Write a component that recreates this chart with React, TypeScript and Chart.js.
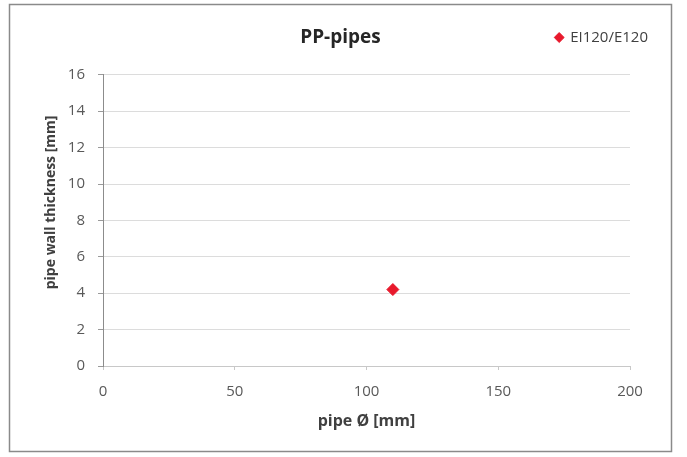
import React, { useEffect, useRef } from 'react';
import { Chart, registerables } from 'chart.js';

Chart.register(...registerables);

const chartTitle = 'PP-pipes';
const seriesLabel = 'EI120/E120';
const xAxisTitle = 'pipe Ø [mm]';
const yAxisTitle = 'pipe wall thickness [mm]';
const pipeDiameters = [110];
const wallThicknesses = [4.2];
const xRange = [0, 200];
const xStep = 50;
const yRange = [0, 16];
const yMajorStep = 2;
const yMinorStep = 1;

const FONT = '"Open Sans", Lato, sans-serif';

const framePlugin = {
  id: 'frame',
  beforeDraw(chart: any) {
    const ctx = chart.ctx;
    ctx.save();
    ctx.fillStyle = '#ffffff';
    ctx.fillRect(0, 0, chart.width, chart.height);
    ctx.strokeStyle = '#8a8a8a';
    ctx.lineWidth = 1.5;
    ctx.strokeRect(9.5, 4.5, 662, 447);
    ctx.restore();
  },
};

const headerPlacement = {
  id: 'headerPlacement',
  afterLayout(chart: any) {
    const lg = chart.legend;
    if (lg) {
      const h = lg.height;
      lg.top = 30;
      lg.bottom = 30 + h;
      lg.left += 18;
      lg.right += 18;
    }
    const tb = chart.titleBlock;
    if (tb) {
      tb.left = 9;
      tb.right = 672;
      tb.width = 663;
    }
    const ys = chart.scales.y;
    if (ys && !ys.__titleShifted) {
      const orig = ys.drawTitle.bind(ys);
      ys.drawTitle = function () {
        const ctx = this.ctx;
        ctx.save();
        ctx.translate(0, -18);
        orig();
        ctx.restore();
      };
      ys.__titleShifted = true;
    }
  },
};

export default function App() {
  const ref = useRef<HTMLCanvasElement | null>(null);

  useEffect(() => {
    document.body.style.margin = '0';
    const canvas = ref.current;
    if (!canvas) return;
    const chart = new Chart(canvas, {
      type: 'scatter',
      data: {
        datasets: [
          {
            label: seriesLabel,
            data: pipeDiameters.map((x, i) => ({ x, y: wallThicknesses[i] })),
            pointStyle: 'rectRot',
            pointRadius: 6,
            backgroundColor: '#e8192c',
            borderColor: '#e8192c',
            borderWidth: 1,
          },
        ],
      },
      options: {
        responsive: false,
        animation: false,
        layout: { padding: { left: 39, right: 57, top: 0, bottom: 22 } },
        plugins: {
          title: {
            display: true,
            text: chartTitle,
            color: '#262626',
            font: { family: FONT, size: 19, weight: 'bold' },
            padding: { top: 26, bottom: 1 },
          },
          legend: {
            display: true,
            position: 'top',
            align: 'end',
            labels: {
              usePointStyle: true,
              boxWidth: 7,
              boxHeight: 7,
              padding: 0,
              color: '#404040',
              font: { family: FONT, size: 15 },
            },
          },
          tooltip: { enabled: false },
        },
        scales: {
          x: {
            type: 'linear',
            min: xRange[0],
            max: xRange[1],
            afterFit: (s: any) => {
              s.height = 69;
            },
            ticks: {
              stepSize: xStep,
              color: '#595959',
              padding: 13,
              font: { family: FONT, size: 15 },
            },
            grid: {
              drawOnChartArea: false,
              drawTicks: true,
              tickLength: 4,
              tickColor: '#c8c8c8',
            },
            border: { color: '#c8c8c8', width: 1 },
            title: {
              display: true,
              text: xAxisTitle,
              color: '#404040',
              font: { family: FONT, size: 16, weight: 'bold' },
              padding: { top: 4, bottom: 4 },
            },
          },
          y: {
            type: 'linear',
            min: yRange[0],
            max: yRange[1],
            afterFit: (s: any) => {
              s.width = 64;
            },
            ticks: {
              stepSize: yMinorStep,
              color: '#595959',
              padding: 13,
              font: { family: FONT, size: 15 },
              callback: (v: any) => (Number(v) % yMajorStep === 0 ? String(v) : ''),
            },
            grid: {
              color: (c: any) =>
                c.tick && c.tick.value % yMajorStep === 0 ? '#dcdcdc' : 'rgba(0,0,0,0)',
              lineWidth: 1,
              tickLength: 5,
              tickColor: '#9a9a9a',
            },
            border: { color: '#8c8c8c', width: 1 },
            title: {
              display: true,
              text: yAxisTitle,
              color: '#404040',
              font: { family: FONT, size: 14, weight: 'bold' },
              padding: { top: 4, bottom: 4 },
            },
          },
        },
      },
      plugins: [framePlugin, headerPlacement],
    });
    return () => chart.destroy();
  }, []);

  return (
    <div style={{ width: 687, height: 457 }}>
      <canvas ref={ref} width={687} height={457} style={{ display: 'block' }} />
    </div>
  );
}
